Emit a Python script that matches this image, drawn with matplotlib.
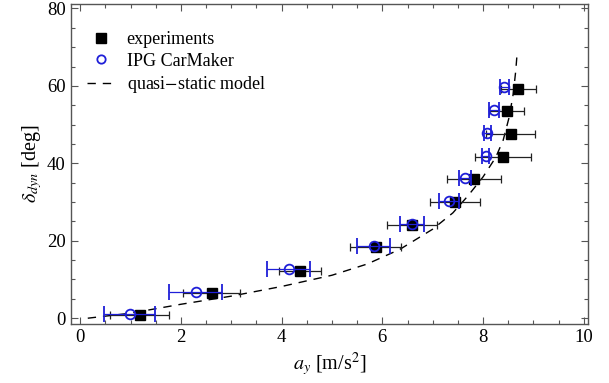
import matplotlib
matplotlib.use("Agg")
import matplotlib.pyplot as plt
from matplotlib.lines import Line2D
from matplotlib.ticker import MultipleLocator

# measured data (experiments)
exp_ay = [1.18, 2.61, 4.36, 5.87, 6.59, 7.44, 7.82, 8.40, 8.55, 8.47, 8.70]
exp_ay_err = [0.58, 0.56, 0.42, 0.51, 0.50, 0.50, 0.53, 0.56, 0.49, 0.35, 0.35]
exp_delta = [0.8, 6.5, 12.3, 18.3, 24.1, 30.0, 35.9, 41.7, 47.6, 53.5, 59.3]

# IPG CarMaker simulation
ipg_ay = [0.98, 2.29, 4.14, 5.83, 6.59, 7.33, 7.64, 8.05, 8.08, 8.22, 8.42]
ipg_ay_err = [0.50, 0.52, 0.43, 0.33, 0.23, 0.20, 0.12, 0.07, 0.07, 0.10, 0.09]
ipg_delta = [1.1, 6.8, 12.6, 18.6, 24.4, 30.3, 36.2, 42.0, 47.9, 53.8, 59.6]

# quasi-static model curve
qs_ay = [0.15, 1.0, 2.0, 3.0, 4.0, 5.0, 5.7, 6.35, 7.0, 7.4, 7.7, 8.0, 8.25, 8.4, 8.52, 8.6, 8.65, 8.68]
qs_delta = [0.0, 1.3, 3.6, 5.7, 8.2, 11.1, 14.0, 17.8, 23.0, 27.2, 31.6, 36.5, 41.5, 46.0, 52.0, 58.0, 64.0, 69.0]

plt.rcParams.update({
    'font.family': 'serif',
    'font.serif': ['Liberation Serif', 'DejaVu Serif'],
    'mathtext.fontset': 'stix',
    'font.size': 13,
})

frame = '#555555'
blue = '#1f1fd8'
dash = (0, (6, 5))

fig = plt.figure(figsize=(6.09, 3.83), dpi=100)
ax = fig.add_axes([0.116, 0.154, 0.850, 0.836])

ax.plot(qs_ay, qs_delta, color='black', lw=1.0, ls=dash, zorder=1)

ax.errorbar(exp_ay, exp_delta, xerr=exp_ay_err, fmt='s', color='black', ecolor='#222222',
            ms=7.5, elinewidth=0.9, capsize=3, capthick=0.9, zorder=2)
ax.errorbar(ipg_ay, ipg_delta, xerr=ipg_ay_err, fmt='o', mfc='none', mec=blue, ecolor=blue,
            ms=7, mew=1.3, elinewidth=0.9, capsize=6, capthick=0.9, zorder=3)

ax.set_xlim(-0.19, 10.09)
ax.set_ylim(-1.5, 81.2)
ax.xaxis.set_major_locator(MultipleLocator(2))
ax.xaxis.set_minor_locator(MultipleLocator(0.5))
ax.yaxis.set_major_locator(MultipleLocator(20))
ax.yaxis.set_minor_locator(MultipleLocator(5))
ax.tick_params(which='both', direction='in', top=True, right=True, color=frame, width=0.8, labelsize=13.5)
ax.tick_params(which='major', length=5)
ax.tick_params(which='minor', length=3)
for s in ax.spines.values():
    s.set_color(frame)
    s.set_linewidth(1.0)

ax.set_xlabel(r'$a_y$ [m/s$^2$]', fontsize=14.5, labelpad=3)
ax.set_ylabel(r'$\delta_{dyn}$ [deg]', fontsize=14.5, labelpad=2)

handles = [
    Line2D([], [], ls='none', marker='s', color='black', ms=7.5),
    Line2D([], [], ls='none', marker='o', mfc='none', mec=blue, mew=1.3, ms=6),
    Line2D([], [], color='black', lw=1.0, ls=dash),
]
labels = ['experiments', 'IPG CarMaker', 'quasi$-$static model']
ax.legend(handles, labels, loc='upper left', bbox_to_anchor=(0.0, 0.965), frameon=False,
          fontsize=13, handlelength=1.6, handletextpad=0.6, labelspacing=0.25)

fig.savefig('out.png', dpi=100)
